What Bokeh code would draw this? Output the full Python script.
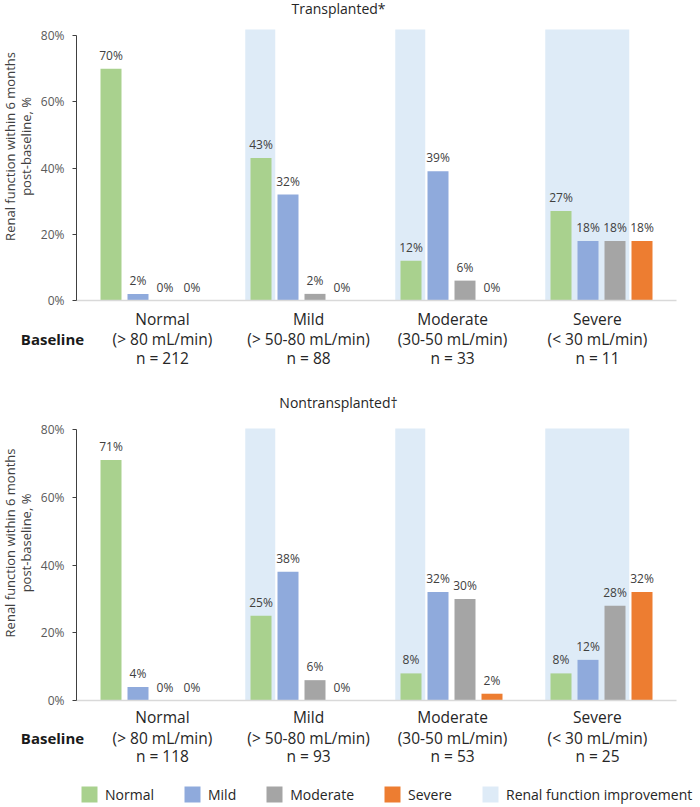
from math import pi
from bokeh.plotting import figure
from bokeh.models import (Range1d, FixedTicker, Label, LinearAxis,
                          ColumnDataSource, Legend, LegendItem)
from bokeh.layouts import column
from bokeh.core.properties import value
from bokeh.embed import file_html
from bokeh.resources import INLINE

# ---------------- data ----------------
categories = ["Normal", "Mild", "Moderate", "Severe"]
ranges = ["(> 80 mL/min)", "(> 50-80 mL/min)", "(30-50 mL/min)", "(< 30 mL/min)"]
series_names = ["Normal", "Mild", "Moderate", "Severe"]
y_ticks = [0, 20, 40, 60, 80]
y_tick_labels = ["0%", "20%", "40%", "60%", "80%"]

n_transplanted = [212, 88, 33, 11]
t_normal = [70, 43, 12, 27]
t_mild = [2, 32, 39, 18]
t_moderate = [0, 2, 6, 18]
t_severe = [0, 0, 0, 18]

n_nontransplanted = [118, 93, 53, 25]
nt_normal = [71, 25, 8, 8]
nt_mild = [4, 38, 32, 12]
nt_moderate = [0, 6, 30, 28]
nt_severe = [0, 0, 2, 32]

# number of leading bars in each group shaded as "renal function improvement"
improvement_bars = [0, 1, 1, 3]

# ---------------- style ----------------
COLORS = ["#a9d18e", "#8faadc", "#a5a5a5", "#ed7d31"]
BAND = "#deebf7"
FONT = "Open Sans"
PITCH = 0.18
BAR_W = 0.14
LABEL_X = [0.573, 1.547, 2.507, 3.473]
W = 700
X0_PX = 76        # pixel column of x = 0
X_PPU = 150       # pixels per category


def xd(px):
    return (px - X0_PX) / X_PPU


def make_panel(title, series, ns, height, zero_px, ppu, band_top,
               title_px, rows_px, with_legend=False):
    # zero_px: pixel row of y=0 measured from the top of this figure
    y_top = zero_px / ppu
    y_bot = -(height - zero_px) / ppu

    def yd(px):
        return (zero_px - px) / ppu

    p = figure(width=W, height=height, output_backend="svg",
               toolbar_location=None,
               x_range=Range1d(xd(0), xd(W)), y_range=Range1d(y_bot, y_top),
               x_axis_location=None, y_axis_location=None,
               min_border=0, min_border_left=0, min_border_right=0,
               min_border_top=0, min_border_bottom=0)
    p.outline_line_color = None
    p.grid.visible = False

    # y axis fixed at x = 0
    ax = LinearAxis(fixed_location=0, bounds=(0, 80),
                    ticker=FixedTicker(ticks=y_ticks))
    ax.major_label_overrides = {t: l for t, l in zip(y_ticks, y_tick_labels)}
    ax.axis_line_color = "#404040"
    ax.major_tick_line_color = "#404040"
    ax.major_tick_out = 4
    ax.major_tick_in = 0
    ax.minor_tick_line_color = None
    ax.major_label_standoff = 8
    ax.major_label_text_font = FONT
    ax.major_label_text_font_size = "12px"
    ax.major_label_text_color = "#595959"
    p.add_layout(ax, "left")

    # improvement bands
    bx, bw = [], []
    for i, k in enumerate(improvement_bars):
        if k == 0:
            continue
        left = i + 0.5 - 1.5 * PITCH - 0.105
        right = i + 0.5 + (k - 1 - 1.5) * PITCH + 0.095
        bx.append((left + right) / 2)
        bw.append(right - left)
    band_r = p.vbar(x=bx, width=bw, bottom=0, top=band_top, fill_color=BAND,
                    line_color=None)

    renderers = []
    for j, vals in enumerate(series):
        xs = [i + 0.5 + (j - 1.5) * PITCH for i in range(len(vals))]
        src = ColumnDataSource(dict(x=xs, top=vals,
                                    lab=[f"{v}%" for v in vals]))
        r = p.vbar(x="x", top="top", bottom=0, width=BAR_W, source=src,
                   fill_color=COLORS[j], line_color=None)
        renderers.append(r)
        p.text(x="x", y="top", text="lab", source=src, text_align="center",
               text_baseline="bottom", y_offset=-5,
               text_font=value(FONT), text_font_size="12px",
               text_color="#404040")

    # baseline (x axis line at y = 0)
    xa = LinearAxis(fixed_location=0, bounds=(0, 4),
                    ticker=FixedTicker(ticks=[]))
    xa.axis_line_color = "#d9d9d9"
    xa.axis_line_width = 1.5
    xa.major_tick_line_color = None
    xa.minor_tick_line_color = None
    xa.major_label_text_font_size = "0px"
    p.add_layout(xa, "below")

    # title
    p.add_layout(Label(x=xd(338), y=yd(title_px), text=title,
                       text_align="center", text_baseline="middle",
                       text_font=FONT, text_font_size="14px",
                       text_color="#262626"))
    # y-axis label (two lines)
    for xpx, txt in [(9, "Renal function within 6 months"),
                     (25, "post-baseline, %")]:
        p.add_layout(Label(x=xd(xpx), y=46.5, text=txt, angle=pi / 2,
                           text_align="center", text_baseline="middle",
                           text_font=FONT, text_font_size="13px",
                           text_color="#404040"))
    # category labels
    rows = [categories, ranges, [f"n = {n}" for n in ns]]
    for rp, texts in zip(rows_px, rows):
        src = ColumnDataSource(dict(x=LABEL_X, y=[yd(rp)] * 4, t=texts))
        p.text(x="x", y="y", text="t", source=src, text_align="center",
               text_baseline="middle", text_font=value(FONT),
               text_font_size="15.5px", text_color="#262626")
    p.add_layout(Label(x=xd(52), y=yd(rows_px[1]), text="Baseline",
                       text_align="center", text_baseline="middle",
                       text_font=FONT, text_font_size="15px",
                       text_font_style="bold", text_color="#1a1a1a"))

    if with_legend:
        items = [LegendItem(label=n, renderers=[r])
                 for n, r in zip(series_names, renderers)]
        items.append(LegendItem(label="Renal function improvement",
                                renderers=[band_r]))
        leg = Legend(items=items, orientation="horizontal",
                     location=(79, 2), glyph_width=20,
                     glyph_height=20, label_standoff=6, spacing=28,
                     padding=0, margin=0, border_line_color=None,
                     background_fill_alpha=0, label_text_font=FONT,
                     label_text_font_size="14px",
                     label_text_color="#262626")
        p.add_layout(leg)
    return p


top = make_panel("Transplanted*", [t_normal, t_mild, t_moderate, t_severe],
                 n_transplanted, 385, 300, 3.3125, 81.8, 8, [318, 338, 357])
bottom = make_panel("Nontransplanted\u2020",
                    [nt_normal, nt_mild, nt_moderate, nt_severe],
                    n_nontransplanted, 421, 315, 3.3875, 80.3, 17,
                    [331, 352, 370], with_legend=True)

layout = column(top, bottom, spacing=0)
open("out.html", "w").write(file_html(layout, INLINE))
